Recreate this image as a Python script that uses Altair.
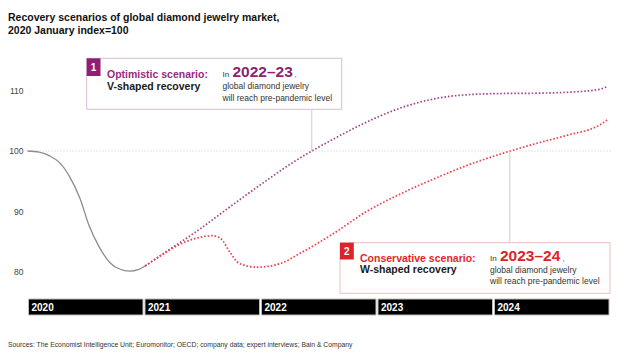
import altair as alt
import pandas as pd

# ---------------- data ----------------
history_year = [2020.0, 2020.1, 2020.19, 2020.28, 2020.36, 2020.45, 2020.53, 2020.62, 2020.71, 2020.79, 2020.88, 2020.95, 2021.01]
history_index = [100.0, 99.8, 99.2, 98.0, 95.8, 92.2, 87.6, 84.0, 81.5, 80.5, 80.15, 80.4, 81.0]

optimistic_year = [2021.01, 2021.17, 2021.45, 2021.74, 2022.02, 2022.31, 2022.44, 2022.60, 2022.88, 2023.20,
                   2023.54, 2023.77, 2024.06, 2024.34, 2024.63, 2024.91, 2024.98]
optimistic_index = [81.0, 83.1, 86.7, 90.8, 94.7, 98.5, 100.0, 101.7, 104.5, 107.1,
                    108.8, 109.3, 109.5, 109.55, 109.7, 110.2, 110.7]

conservative_year = [2021.01, 2021.16, 2021.31, 2021.45, 2021.59, 2021.66, 2021.74, 2021.82, 2021.97, 2022.17,
                     2022.34, 2022.63, 2022.91, 2023.20, 2023.49, 2023.77, 2024.06, 2024.34, 2024.63, 2024.91, 2024.98]
conservative_index = [81.0, 82.9, 84.6, 85.6, 86.0, 85.5, 83.2, 81.4, 80.8, 81.4,
                      83.1, 86.4, 90.0, 92.9, 95.4, 97.6, 99.5, 101.1, 102.6, 104.3, 105.2]

year_labels = ["2020", "2021", "2022", "2023", "2024"]
y_ticks = [80, 90, 100, 110]
baseline_index = 100
optimistic_cross_year = 2022.44
conservative_cross_year = 2024.14

# ---------------- styling ----------------
FONT = "Liberation Sans"
PURPLE = "#8E1F72"
PURPLE_LINE = "#A2468F"
RED = "#DE2229"
RED_LINE = "#EC414A"
GREY = "#8C8C8C"

X_DOMAIN = [2019.764, 2025.2575]
Y_DOMAIN = [66.45, 124.96]

xs = alt.Scale(domain=X_DOMAIN, nice=False, zero=False)
ys = alt.Scale(domain=Y_DOMAIN, nice=False, zero=False)

hist_df = pd.DataFrame({"year": history_year, "index": history_index})
opt_df = pd.DataFrame({"year": optimistic_year, "index": optimistic_index})
con_df = pd.DataFrame({"year": conservative_year, "index": conservative_index})
years_df = pd.DataFrame({"label": year_labels, "start": [float(y) for y in year_labels]})
years_df["end"] = years_df["start"] + 1
tick_df = pd.DataFrame({"v": y_ticks, "label": [str(v) for v in y_ticks]})
dummy = pd.DataFrame({"d": [0]})

X = lambda f: alt.X(f, type="quantitative", scale=xs, axis=None)
Y = lambda f: alt.Y(f, type="quantitative", scale=ys, axis=None)

# y axis labels
yaxis = alt.Chart(tick_df).mark_text(align="right", baseline="middle", font=FONT, fontSize=8.5,
                                     color="#444").encode(
    y=Y("v"), x=alt.value(23.5), text="label:N")

grid = alt.Chart(pd.DataFrame({"y": [baseline_index], "x0": [2020.0], "x1": [2025.02]})).mark_rule(
    color="#cfcfcf", strokeWidth=1, strokeDash=[1, 2]
).encode(x=X("x0"), x2="x1", y=Y("y"))

hist_line = alt.Chart(hist_df).mark_line(color=GREY, strokeWidth=1.3, interpolate="monotone").encode(
    x=X("year"), y=Y("index"))
opt_line = alt.Chart(opt_df).mark_line(color=PURPLE_LINE, strokeWidth=1.7, strokeDash=[1.6, 1.9],
                                       interpolate="monotone").encode(x=X("year"), y=Y("index"))
con_line = alt.Chart(con_df).mark_line(color=RED_LINE, strokeWidth=1.7, strokeDash=[1.6, 1.9],
                                       interpolate="monotone").encode(x=X("year"), y=Y("index"))

conn1 = alt.Chart(pd.DataFrame({"x": [optimistic_cross_year], "y": [baseline_index]})).mark_rule(
    color="#cccccc", strokeWidth=1).encode(x=X("x"), y=Y("y"), y2=alt.value(109.3))
conn2 = alt.Chart(pd.DataFrame({"x": [conservative_cross_year], "y": [baseline_index]})).mark_rule(
    color="#cccccc", strokeWidth=1).encode(x=X("x"), y=Y("y"), y2=alt.value(242.7))

year_bars = alt.Chart(years_df).mark_rect(color="#000000", stroke="#bdbdbd", strokeWidth=1,
                                          xOffset=1, x2Offset=-1).encode(
    x=X("start"), x2="end", y=alt.value(299), y2=alt.value(315))
year_text = alt.Chart(years_df).mark_text(align="left", baseline="alphabetic", dx=4, font=FONT,
                                          fontSize=10, fontWeight="bold", color="white").encode(
    x=X("start"), y=alt.value(310.5), text="label:N")


def txt(s, x, y, size, color="#222", weight="normal", align="left"):
    return alt.Chart(dummy).mark_text(align=align, baseline="alphabetic", font=FONT, fontSize=size,
                                      fontWeight=weight, color=color).encode(
        x=alt.value(x), y=alt.value(y), text=alt.value(s))


def box(x0, y0, x1, y1, stroke, fill="white", sw=1):
    return alt.Chart(dummy).mark_rect(fill=fill, stroke=stroke, strokeWidth=sw).encode(
        x=alt.value(x0), x2=alt.value(x1), y=alt.value(y0), y2=alt.value(y1))


layers = [
    grid, hist_line, opt_line, con_line, conn1, conn2, yaxis,
    year_bars, year_text,
    # title
    txt("Recovery scenarios of global diamond jewelry market,", 8, 21, 10.5, "#111", "bold"),
    txt("2020 January index=100", 8, 33.5, 10.5, "#111", "bold"),
    # box 1
    box(86.7, 58.3, 341.7, 109.3, "#DDBCD4"),
    box(86.7, 58.3, 100.5, 76, PURPLE, PURPLE, 0),
    txt("1", 93.6, 71, 10, "white", "bold", "center"),
    txt("Optimistic scenario:", 107, 78, 10.5, "#962A80", "bold"),
    txt("V-shaped recovery", 107, 89.5, 10.5, "#1a1a1a", "bold"),
    txt("In", 222.5, 77, 8, "#333"),
    txt("2022\u201323", 232.5, 77, 15.5, PURPLE, "bold"),
    txt(",", 294.5, 77, 8, "#555"),
    txt("global diamond jewelry", 222.5, 89, 8.5, "#333"),
    txt("will reach pre-pandemic level", 222.5, 100.5, 8.5, "#333"),
    # box 2
    box(340, 242.7, 610, 293.3, "#F2BCBF"),
    box(340, 242.7, 353.8, 259.5, RED, RED, 0),
    txt("2", 346.9, 255, 10, "white", "bold", "center"),
    txt("Conservative scenario:", 360, 261.5, 10.5, "#E3262E", "bold"),
    txt("W-shaped recovery", 360, 273, 10.5, "#1a1a1a", "bold"),
    txt("In", 490, 261, 8, "#333"),
    txt("2023\u201324", 500, 261, 15.5, RED, "bold"),
    txt(",", 562.5, 261, 8, "#555"),
    txt("global diamond jewelry", 490, 272.5, 8.5, "#333"),
    txt("will reach pre-pandemic level", 490, 284, 8.5, "#333"),
    # footer
    txt("Sources: The Economist Intelligence Unit; Euromonitor; OECD; company data; expert interviews; Bain & Company",
        8, 347, 6.8, "#333"),
]

chart = alt.layer(*layers).properties(
    width=640, height=354,
    autosize=alt.AutoSizeParams(type="none"),
    padding={"left": 0, "top": 0, "right": 0, "bottom": 0},
    background="white",
).configure_view(stroke=None)

chart.save("out.html", embed_options={"renderer": "svg", "actions": False})
